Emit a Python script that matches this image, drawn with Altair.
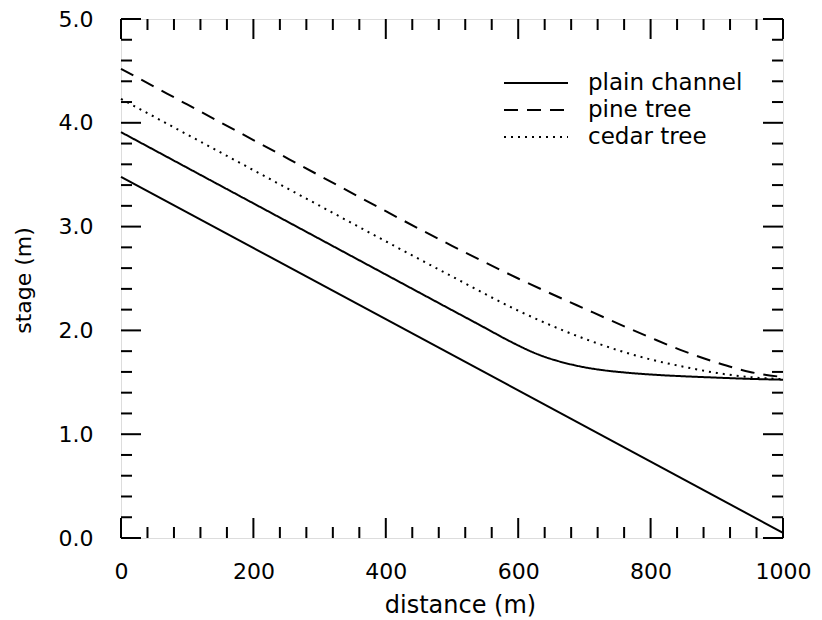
import altair as alt
import pandas as pd

# ---- data ----
series_names = ["plain channel", "pine tree", "cedar tree"]

plain_x = [0, 100, 200, 300, 400, 500, 550, 580, 600, 620, 640, 660, 680, 700, 730, 760, 800, 850, 900, 950, 1000]
plain_y = [3.91, 3.567, 3.224, 2.881, 2.538, 2.195, 2.024, 1.92, 1.855, 1.795, 1.745, 1.705, 1.672, 1.645, 1.615, 1.595, 1.575, 1.558, 1.545, 1.533, 1.525]

pine_x = [0, 100, 200, 300, 400, 500, 600, 700, 800, 850, 900, 950, 1000]
pine_y = [4.52, 4.177, 3.834, 3.491, 3.148, 2.815, 2.50, 2.21, 1.93, 1.80, 1.69, 1.60, 1.55]

cedar_x = [0, 100, 200, 300, 400, 500, 600, 700, 800, 850, 900, 950, 1000]
cedar_y = [4.23, 3.887, 3.544, 3.201, 2.858, 2.52, 2.19, 1.92, 1.72, 1.65, 1.59, 1.55, 1.53]

bed_x = [0, 1000]
bed_y = [3.48, 0.05]

x_major = [0, 200, 400, 600, 800, 1000]
x_minor = [40, 80, 120, 160, 240, 280, 320, 360, 440, 480, 520, 560,
           640, 680, 720, 760, 840, 880, 920, 960]
y_major = [0.0, 1.0, 2.0, 3.0, 4.0, 5.0]
y_minor = [0.2, 0.4, 0.6, 0.8, 1.2, 1.4, 1.6, 1.8, 2.2, 2.4, 2.6, 2.8,
           3.2, 3.4, 3.6, 3.8, 4.2, 4.4, 4.6, 4.8]

# ---- tables ----
rows = []
for name, xs, ys in [("plain channel", plain_x, plain_y),
                     ("pine tree", pine_x, pine_y),
                     ("cedar tree", cedar_x, cedar_y)]:
    for xv, yv in zip(xs, ys):
        rows.append({"series": name, "x": xv, "y": yv})
curves = pd.DataFrame(rows)
bed = pd.DataFrame({"x": bed_x, "y": bed_y})
xmaj = pd.DataFrame({"t": x_major})
xmin = pd.DataFrame({"t": x_minor})
ymaj = pd.DataFrame({"t": y_major})
ymin = pd.DataFrame({"t": y_minor})

W, H = 662, 519
FONT = "DejaVu Sans"

xscale = alt.Scale(domain=[0, 1000], nice=False, zero=False)
yscale = alt.Scale(domain=[0, 5], nice=False, zero=False)

xaxis = alt.Axis(values=x_major, format="d", grid=False, domain=False, ticks=False,
                 labelPadding=23, labelFontSize=22, labelFont=FONT, labelColor="black",
                 labelFlush=False, labelOverlap=False,
                 title="distance (m)", titleFont=FONT, titleFontSize=24,
                 titleFontWeight="normal", titleColor="black",
                 titleX=339, titleY=67, titleBaseline="middle", titleAlign="center")
yaxis = alt.Axis(values=y_major, format=".1f", grid=False, domain=False, ticks=False,
                 labelPadding=28, labelFontSize=22, labelFont=FONT, labelColor="black",
                 labelFlush=False, labelOverlap=False,
                 title="stage (m)", titleFont=FONT, titleFontSize=22,
                 titleFontWeight="normal", titleColor="black",
                 titleX=-98, titleY=261, titleBaseline="middle", titleAlign="center",
                 titleAngle=270)

X = lambda f: alt.X(f, type="quantitative", scale=xscale, axis=xaxis)
Y = lambda f: alt.Y(f, type="quantitative", scale=yscale, axis=yaxis)

lines = alt.Chart(curves).mark_line(color="black", strokeWidth=2, interpolate="monotone").encode(
    x=X("x"), y=Y("y"),
    strokeDash=alt.StrokeDash(
        "series:N",
        scale=alt.Scale(domain=series_names, range=[[1, 0], [14, 9], [2, 5]]),
        sort=series_names,
        legend=alt.Legend(orient="none", legendX=382, legendY=53, title=None,
                          symbolType="stroke", symbolSize=4096, symbolStrokeWidth=2,
                          symbolStrokeColor="black", clipHeight=22, rowPadding=4,
                          labelOffset=19, labelFontSize=23, labelFont=FONT,
                          labelColor="black", padding=0),
    ),
    detail="series:N",
)

bed_line = alt.Chart(bed).mark_line(color="black", strokeWidth=2).encode(
    x=X("x"), y=Y("y"))

def xticks(df, length):
    bottom = alt.Chart(df).mark_rule(color="black", strokeWidth=2).encode(
        x=X("t"), y=alt.value(H), y2=alt.value(H - length))
    top = alt.Chart(df).mark_rule(color="black", strokeWidth=2).encode(
        x=X("t"), y=alt.value(0), y2=alt.value(length))
    return [bottom, top]

def yticks(df, length):
    left = alt.Chart(df).mark_rule(color="black", strokeWidth=2).encode(
        y=Y("t"), x=alt.value(0), x2=alt.value(length))
    right = alt.Chart(df).mark_rule(color="black", strokeWidth=2).encode(
        y=Y("t"), x=alt.value(W), x2=alt.value(W - length))
    return [left, right]

layers = (xticks(xmaj, 20) + xticks(xmin, 11) + yticks(ymaj, 20) + yticks(ymin, 11)
          + [bed_line, lines])

chart = alt.layer(*layers).properties(
    width=W, height=H,
    autosize=alt.AutoSizeParams(type="none"),
    padding={"left": 113, "top": 11, "right": 30, "bottom": 82},
).configure_view(stroke="black", strokeWidth=2).configure(background="white")

chart.save("out.html", embed_options={"renderer": "svg", "actions": False})
